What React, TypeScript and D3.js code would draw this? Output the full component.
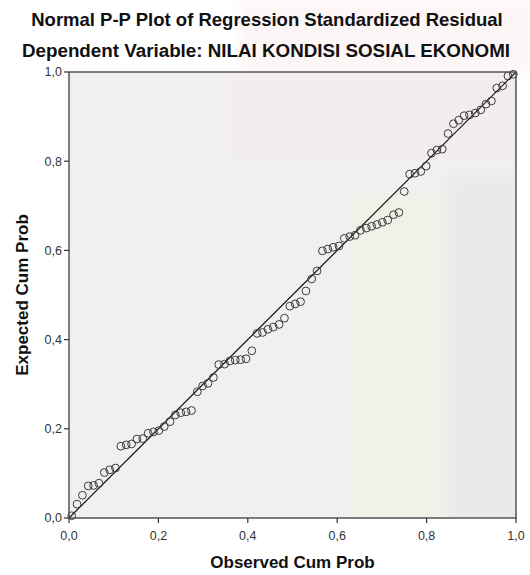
import React from "react";
import * as d3 from "d3";

const titleLine1 = "Normal P-P Plot of Regression Standardized Residual";
const titleLine2 = "Dependent Variable: NILAI KONDISI SOSIAL EKONOMI";
const xAxisTitle = "Observed Cum Prob";
const yAxisTitle = "Expected Cum Prob";
const tickValues = [0, 0.2, 0.4, 0.6, 0.8, 1.0];
const tickLabels = ["0,0", "0,2", "0,4", "0,6", "0,8", "1,0"];

const observedCumProb = [
  0.006, 0.018, 0.030, 0.043, 0.055, 0.067, 0.079, 0.091, 0.104, 0.116,
  0.128, 0.140, 0.152, 0.165, 0.177, 0.189, 0.201, 0.213, 0.226, 0.238,
  0.250, 0.262, 0.274, 0.287, 0.299, 0.311, 0.323, 0.335, 0.348, 0.360,
  0.372, 0.384, 0.396, 0.409, 0.421, 0.433, 0.445, 0.457, 0.470, 0.482,
  0.494, 0.506, 0.518, 0.530, 0.543, 0.555, 0.567, 0.579, 0.591, 0.604,
  0.616, 0.628, 0.640, 0.652, 0.665, 0.677, 0.689, 0.701, 0.713, 0.726,
  0.738, 0.750, 0.762, 0.774, 0.787, 0.799, 0.811, 0.823, 0.835, 0.848,
  0.860, 0.872, 0.884, 0.896, 0.909, 0.921, 0.933, 0.945, 0.957, 0.970,
  0.982, 0.994,
];

const expectedCumProb = [
  0.005, 0.031, 0.051, 0.072, 0.073, 0.078, 0.102, 0.108, 0.112, 0.161,
  0.164, 0.166, 0.177, 0.178, 0.190, 0.193, 0.196, 0.205, 0.216, 0.231,
  0.236, 0.238, 0.241, 0.283, 0.296, 0.302, 0.315, 0.344, 0.345, 0.352,
  0.354, 0.355, 0.357, 0.375, 0.414, 0.416, 0.423, 0.428, 0.434, 0.448,
  0.475, 0.480, 0.485, 0.509, 0.536, 0.554, 0.599, 0.603, 0.607, 0.610,
  0.627, 0.631, 0.634, 0.645, 0.650, 0.654, 0.658, 0.663, 0.668, 0.680,
  0.685, 0.732, 0.771, 0.773, 0.777, 0.789, 0.818, 0.825, 0.827, 0.862,
  0.884, 0.892, 0.902, 0.904, 0.908, 0.915, 0.928, 0.935, 0.964, 0.969,
  0.991, 0.995,
];

const W = 530;
const H = 575;
const left = 69;
const right = 516;
const top = 72;
const bottom = 518;
const FONT = "'Liberation Sans', Arial, sans-serif";

export default function App() {
  const x = d3.scaleLinear().domain([0, 1]).range([left, right]);
  const y = d3.scaleLinear().domain([0, 1]).range([bottom, top]);
  const line = d3.line<[number, number]>().x((d) => x(d[0])).y((d) => y(d[1]));
  const points = observedCumProb.map((o, i) => [o, expectedCumProb[i]] as [number, number]);

  return (
    <svg
      width={W}
      height={H}
      style={{ position: "absolute", left: 0, top: 0, background: "#ffffff" }}
      fontFamily={FONT}
    >
      <defs>
        <clipPath id="plotClip">
          <rect x={left} y={top} width={right - left} height={bottom - top} />
        </clipPath>
        <filter id="soft" x="-10%" y="-10%" width="120%" height="120%">
          <feGaussianBlur stdDeviation="6" />
        </filter>
      </defs>
      <rect x={0} y={0} width={W} height={H} fill="#ffffff" />
      {/* faint watermark behind the chart */}
      <rect x={240} y={0} width={290} height={72} fill="#fdf6f6" filter="url(#soft)" />

      <text x={W / 2 + 2} y={26} textAnchor="middle" fontSize={18.5} fontWeight="bold" fill="#111">
        {titleLine1}
      </text>
      <text x={W / 2 + 1} y={57} textAnchor="middle" fontSize={18.8} fontWeight="bold" fill="#111">
        {titleLine2}
      </text>

      <rect x={left} y={top} width={right - left} height={bottom - top} fill="#f0f0f0" stroke="none" />
      <g clipPath="url(#plotClip)">
        <g filter="url(#soft)">
          <rect x={230} y={top - 20} width={right - 210} height={110} fill="#f3eded" />
          <rect x={350} y={195} width={92} height={bottom - 175} fill="#f2f1e8" />
          <rect x={448} y={175} width={right - 430} height={bottom - 155} fill="#eaeaeb" />
        </g>
      </g>

      <path d={line([[0, 0], [1, 1]]) || ""} stroke="#111" strokeWidth={1.2} fill="none" />

      {points.map((p, i) => (
        <circle key={i} cx={x(p[0])} cy={y(p[1])} r={3.9} fill="none" stroke="#3a3a3a" strokeWidth={1} />
      ))}

      <rect x={left} y={top} width={right - left} height={bottom - top} fill="none" stroke="#555" strokeWidth={1.5} />

      {tickValues.map((t, i) => (
        <g key={"y" + i}>
          <line x1={left - 5} x2={left} y1={y(t)} y2={y(t)} stroke="#333" strokeWidth={1.2} />
          <text x={left - 7} y={y(t)} dy="0.35em" textAnchor="end" fontSize={12.5} fill="#333">
            {tickLabels[i]}
          </text>
        </g>
      ))}
      {tickValues.map((t, i) => (
        <g key={"x" + i}>
          <line x1={x(t)} x2={x(t)} y1={bottom} y2={bottom + 5} stroke="#333" strokeWidth={1.2} />
          <text x={x(t)} y={bottom + 22} textAnchor="middle" fontSize={12.5} fill="#333">
            {tickLabels[i]}
          </text>
        </g>
      ))}

      <text x={(left + right) / 2} y={568} textAnchor="middle" fontSize={17} fontWeight="bold" fill="#111">
        {xAxisTitle}
      </text>
      <text
        transform={`translate(28, ${(top + bottom) / 2}) rotate(-90)`}
        textAnchor="middle"
        fontSize={17}
        fontWeight="bold"
        fill="#111"
      >
        {yAxisTitle}
      </text>
    </svg>
  );
}
